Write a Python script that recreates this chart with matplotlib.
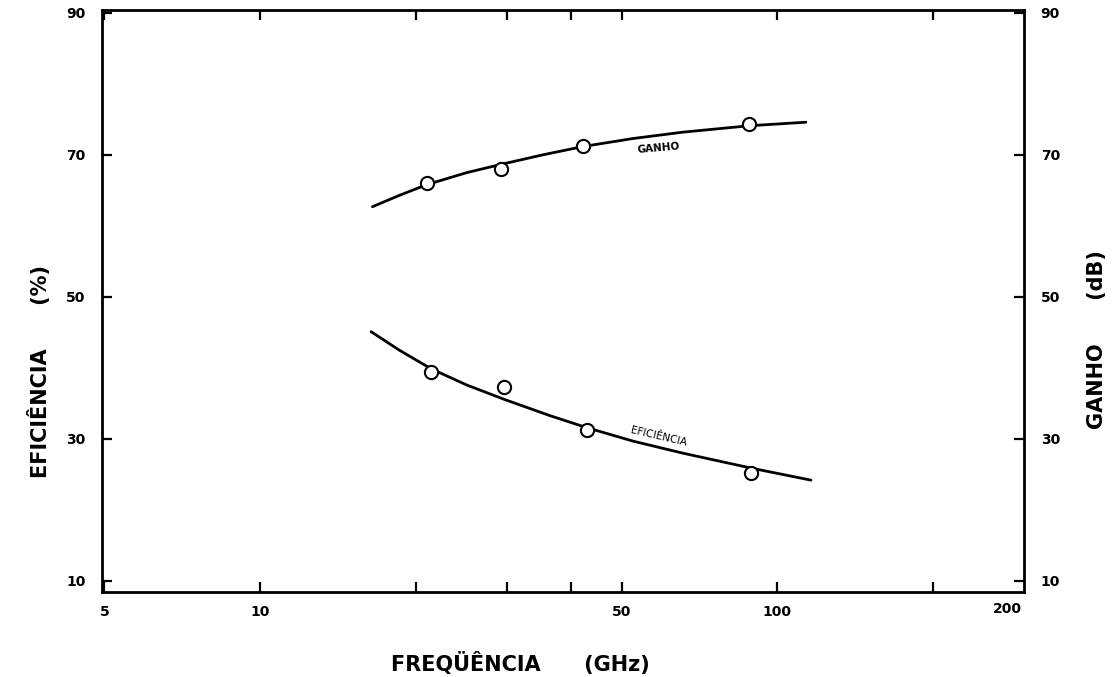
import matplotlib
matplotlib.use("Agg")
import matplotlib.pyplot as plt
from matplotlib.ticker import FixedLocator, NullFormatter, FixedFormatter

plt.rcParams['font.family'] = ['DejaVu Sans']

# ---- data ----
# Gain (dB) - measured points and fitted curve
ganho_freq = [21.0, 29.3, 42.2, 88.3]
ganho_val = [66.1, 68.0, 71.3, 74.4]
ganho_curve_freq = [16.5, 18.6, 21.0, 25.1, 29.4, 35.2, 42.3, 52.6, 65.7, 88.3, 113.6]
ganho_curve_val = [62.7, 64.3, 65.8, 67.5, 68.7, 70.0, 71.2, 72.3, 73.2, 74.1, 74.6]

# Efficiency (%) - measured points and fitted curve
efic_freq = [21.4, 29.6, 42.8, 89.0]
efic_val = [39.4, 37.3, 31.3, 25.2]
efic_curve_freq = [16.4, 18.6, 21.4, 25.1, 29.6, 36.3, 42.8, 52.6, 65.7, 89.0, 116.2]
efic_curve_val = [45.1, 42.5, 39.9, 37.6, 35.6, 33.3, 31.6, 29.7, 28.0, 25.9, 24.2]

x_major = [5, 10, 50, 100]
x_major_labels = ["5", "10", "50", "100"]
x_minor = [20, 30, 40, 200]
y_ticks = [10, 30, 50, 70, 90]
y_tick_labels = ["10", "30", "50", "70", "90"]

fig = plt.figure(figsize=(11.17, 6.77), dpi=100)
ax = fig.add_axes([102/1117, 1 - 592/677, (1024-102)/1117, (592-10)/677])

ax.plot(ganho_curve_freq, ganho_curve_val, color='black', lw=2.0,
        solid_capstyle='round', solid_joinstyle='round')
ax.plot(efic_curve_freq, efic_curve_val, color='black', lw=2.0,
        solid_capstyle='round', solid_joinstyle='round')
ax.plot(ganho_freq, ganho_val, 'o', mfc='white', mec='black', mew=1.5, ms=9.5)
ax.plot(efic_freq, efic_val, 'o', mfc='white', mec='black', mew=1.5, ms=9.5)

ax.set_xscale('log')
ax.set_xlim(4.95, 300)
ax.set_ylim(8.45, 90.4)

ax.xaxis.set_major_locator(FixedLocator(x_major))
ax.xaxis.set_major_formatter(FixedFormatter(x_major_labels))
ax.xaxis.set_minor_locator(FixedLocator(x_minor))
ax.xaxis.set_minor_formatter(NullFormatter())
ax.yaxis.set_major_locator(FixedLocator(y_ticks))
ax.yaxis.set_major_formatter(FixedFormatter(y_tick_labels))
ax.yaxis.set_minor_locator(FixedLocator([]))

for s in ax.spines.values():
    s.set_linewidth(2.0)

ax.tick_params(axis='both', which='both', direction='in', top=True, bottom=True,
               left=True, right=True, width=1.6, length=7,
               labelsize=10, pad=9)
ax.tick_params(axis='y', which='both', labelleft=True, labelright=True, pad=12)
for lab in ax.get_xticklabels() + ax.get_yticklabels():
    lab.set_fontweight('bold')
for t in ax.yaxis.get_major_ticks():
    t.label2.set_fontweight('bold')

# "200" label drawn at the right end of the axis as in the reference
ax.text(278, -0.017, "200", transform=ax.get_xaxis_transform(), ha='center', va='top',
        fontsize=10, fontweight='bold')

# curve annotations
ax.text(59, 71.0, "GANHO", fontsize=7.5, fontweight='bold', rotation=5,
        ha='center', va='center')
ax.text(59, 30.3, "EFICIÊNCIA", fontsize=7.5, fontweight='normal', rotation=-13,
        ha='center', va='center')

# axis titles
fig.text(520/1117, 1 - 663/677, "FREQÜÊNCIA      (GHz)", fontsize=15, fontweight='bold',
         ha='center', va='center')
fig.text(40/1117, 1 - 372/677, "EFICIÊNCIA      (%)", fontsize=15, fontweight='bold',
         ha='center', va='center', rotation=90)
fig.text(1097/1117, 1 - 340/677, "GANHO      (dB)", fontsize=15, fontweight='bold',
         ha='center', va='center', rotation=90)

fig.savefig("out.png", dpi=100, facecolor='white')
